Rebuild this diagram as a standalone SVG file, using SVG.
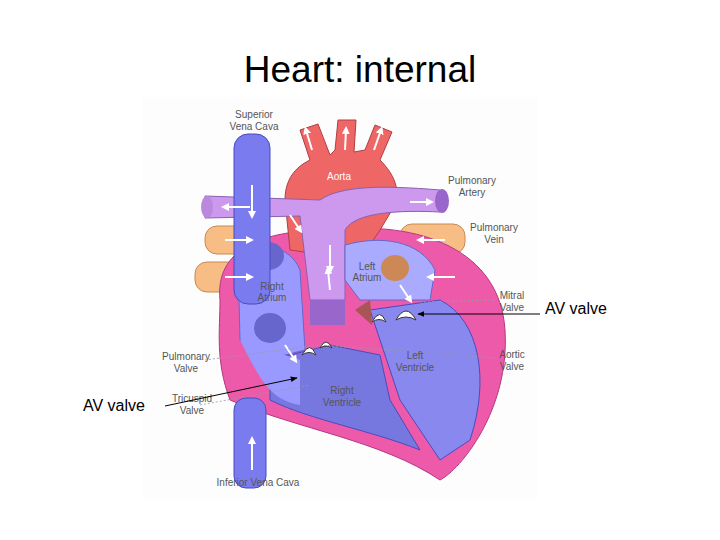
<svg xmlns="http://www.w3.org/2000/svg" width="720" height="540" viewBox="0 0 720 540">
<defs>
<marker id="ah" viewBox="0 0 10 10" refX="9" refY="5" markerWidth="7" markerHeight="7" orient="auto"><path d="M0,1 L10,5 L0,9 z" fill="#000"/></marker>
<marker id="wa" viewBox="0 0 10 10" refX="5" refY="5" markerWidth="4" markerHeight="4" orient="auto"><path d="M0,0 L10,5 L0,10 z" fill="#fff"/></marker>
</defs>
<style>
.t{font-family:"Liberation Sans",Arial,sans-serif;fill:#000}
.s{font-family:"Liberation Sans",Arial,sans-serif;font-size:10px;fill:#555;text-anchor:middle}
.w{stroke:#fff;stroke-width:2;fill:none;marker-end:url(#wa)}
.g{stroke:#999;stroke-width:0.8;stroke-dasharray:2 2;fill:none}
</style>
<rect width="720" height="540" fill="#fff"/>
<text class="t" x="360" y="82" font-size="37" text-anchor="middle">Heart: internal</text>
<rect x="143" y="97" width="394" height="402" fill="#fdfdfd"/>
<g fill="#f7bd84" stroke="#c98a50" stroke-width="1">
<rect x="205" y="226" width="60" height="28" rx="12"/>
<rect x="195" y="262" width="70" height="30" rx="12"/>
<rect x="400" y="224" width="65" height="30" rx="12"/>
<rect x="410" y="262" width="65" height="30" rx="12"/>
</g>
<path d="M220,300 C215,250 260,230 330,230 C420,220 500,250 505,330 C510,410 460,470 440,480 C380,440 300,430 230,400 C215,360 220,330 220,300 Z" fill="#ee5aaa" stroke="#b03a80"/>
<path d="M290,250 L285,200 C285,175 300,165 310,160 L300,130 L318,124 L330,155 L335,150 L338,120 L356,120 L354,152 L365,150 L375,125 L392,132 L380,160 C395,175 400,190 395,205 L380,230 L360,260 Z" fill="#ee6666" stroke="#b04040"/>
<path d="M205,196 L205,218 L300,216 L310,300 L345,300 L345,230 C355,212 400,210 440,212 L440,190 C380,185 340,186 320,200 L205,196 Z" fill="#cc99ee" stroke="#8a60b0"/>
<ellipse cx="442" cy="201" rx="7" ry="12" fill="#9966cc"/>
<ellipse cx="207" cy="207" rx="6" ry="11" fill="#bb88dd"/>
<path d="M238,260 C260,240 290,245 300,270 L305,350 L265,360 L240,340 Z" fill="#9999ff" stroke="#6666cc"/>
<ellipse cx="268" cy="256" rx="16" ry="14" fill="#6666cc"/>
<ellipse cx="270" cy="328" rx="16" ry="15" fill="#6666cc"/>
<path d="M345,245 C380,235 420,240 435,270 L430,300 L360,300 L345,280 Z" fill="#aaaaff" stroke="#6666cc"/>
<ellipse cx="395" cy="268" rx="14" ry="13" fill="#cc8855"/>
<rect x="234" y="134" width="36" height="170" rx="14" fill="#7b7bf0" stroke="#4a4ac0"/>
<rect x="234" y="398" width="32" height="90" rx="12" fill="#7b7bf0" stroke="#4a4ac0"/>
<path d="M270,360 L330,345 L380,355 L390,400 L420,450 C370,430 310,420 270,400 Z" fill="#7777e0" stroke="#4a4ac0"/>
<path d="M240,340 C260,380 270,400 300,405 L300,360 Z" fill="#9999ff"/>
<path d="M370,310 L440,300 C480,320 490,380 470,440 L440,460 L400,400 Z" fill="#8888ee" stroke="#4a4ac0"/>
<path d="M310,300 L345,300 L345,325 L310,325 Z" fill="#9966cc"/>
<g fill="#fff" stroke="#333">
<path d="M302,355 q8,-15 14,0 q-7,-5 -14,0Z"/>
<path d="M320,348 q6,-12 12,0 q-6,-4 -12,0Z"/>
<path d="M372,322 q8,-15 14,0 q-7,-5 -14,0Z"/>
<path d="M396,320 q10,-18 20,0 q-10,-6 -20,0Z"/>
</g>
<path d="M355,310 L370,300 L372,325 Z" fill="#aa5555"/>
<path class="w" d="M252,185 L252,215"/>
<path class="w" d="M252,470 L252,440"/>
<path class="w" d="M312,150 L306,130"/>
<path class="w" d="M345,150 L346,130"/>
<path class="w" d="M374,150 L381,130"/>
<path class="w" d="M290,215 L300,230"/>
<path class="w" d="M250,207 L225,207"/>
<path class="w" d="M410,202 L430,202"/>
<path class="w" d="M330,245 L330,270"/>
<path class="w" d="M330,290 L328,270"/>
<path class="w" d="M445,240 L420,240"/>
<path class="w" d="M455,277 L430,277"/>
<path class="w" d="M225,240 L250,240"/>
<path class="w" d="M225,277 L250,277"/>
<path class="w" d="M400,285 L410,300"/>
<path class="w" d="M285,345 L295,360"/>
<path class="g" d="M420,302 L495,300"/>
<path class="g" d="M205,360 L320,345 L495,358"/>
<path class="g" d="M200,405 L310,385"/>
<g class="s">
<text x="254" y="118">Superior</text><text x="254" y="130">Vena Cava</text>
<text x="339" y="180" fill="#fff">Aorta</text>
<text x="472" y="184">Pulmonary</text><text x="472" y="196">Artery</text>
<text x="494" y="231">Pulmonary</text><text x="494" y="243">Vein</text>
<text x="367" y="270">Left</text><text x="367" y="281">Atrium</text>
<text x="272" y="290">Right</text><text x="272" y="301">Atrium</text>
<text x="512" y="299">Mitral</text><text x="512" y="311">Valve</text>
<text x="186" y="360">Pulmonary</text><text x="186" y="372">Valve</text>
<text x="415" y="359">Left</text><text x="415" y="371">Ventricle</text>
<text x="512" y="358">Aortic</text><text x="512" y="370">Valve</text>
<text x="342" y="394">Right</text><text x="342" y="406">Ventricle</text>
<text x="192" y="402">Tricuspid</text><text x="192" y="414">Valve</text>
<text x="258" y="486">Inferior Vena Cava</text>
</g>
<g>
<path d="M540,314 L418,314" stroke="#000" stroke-width="1" marker-end="url(#ah)"/>
<path d="M165,406 L297,378" stroke="#000" stroke-width="1" marker-end="url(#ah)"/>
</g>
<text class="t" x="576" y="314" font-size="16" text-anchor="middle">AV valve</text>
<text class="t" x="114" y="411" font-size="16" text-anchor="middle">AV valve</text>
</svg>
